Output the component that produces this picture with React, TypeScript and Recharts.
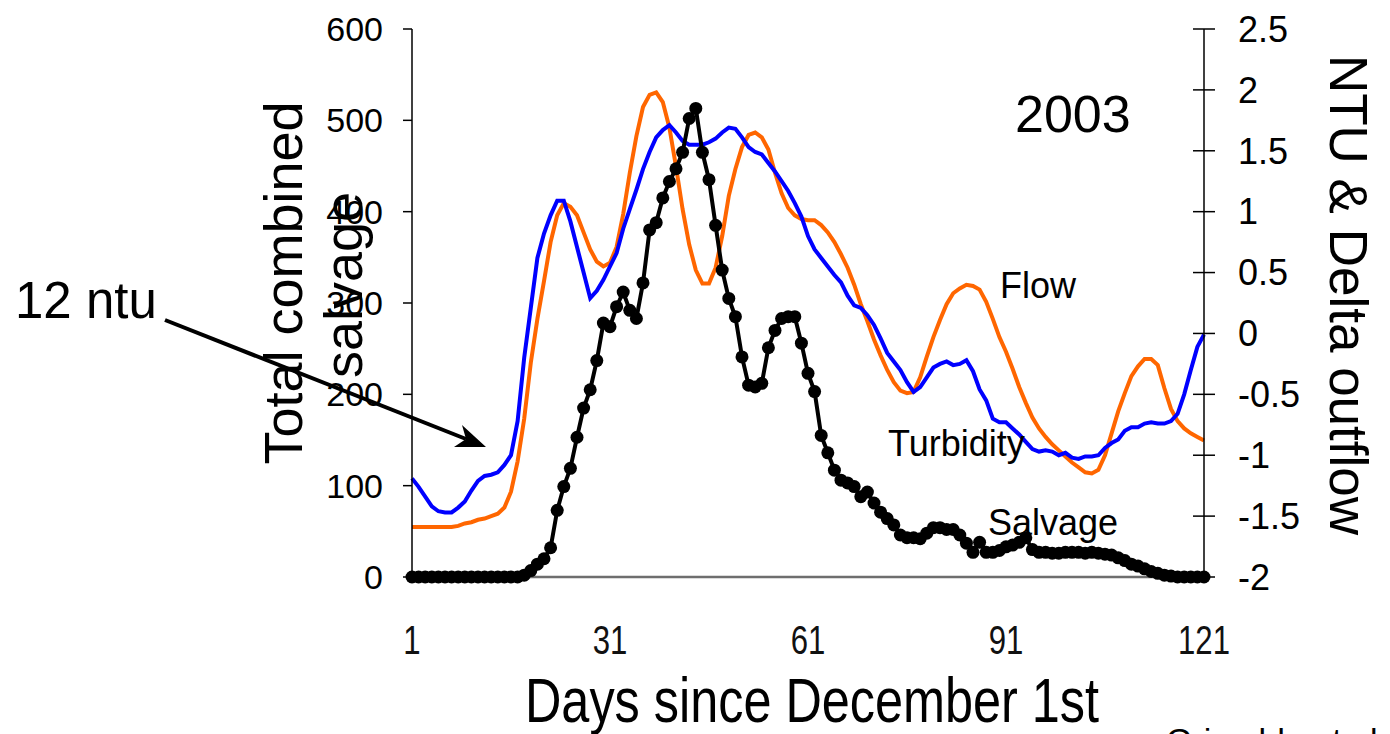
import React from "react";
import { LineChart, Line, XAxis, YAxis } from "recharts";

// Days since December 1st, 2003 season
const days: number[] = Array.from({ length: 121 }, (_, i) => i + 1);

// Total combined salvage (left axis)
const salvage: number[] = [
  0, 0, 0, 0, 0, 0, 0, 0, 0, 0,
  0, 0, 0, 0, 0, 0, 0, 2, 7, 14,
  20, 32, 73, 99, 119, 153, 185, 205, 237, 278,
  274, 296, 312, 292, 283, 322, 380, 388, 415, 433,
  447, 465, 502, 513, 465, 435, 385, 336, 305, 285,
  241, 210, 208, 212, 251, 270, 283, 285, 285, 256,
  223, 203, 155, 136, 117, 106, 103, 99, 88, 93,
  81, 71, 64, 57, 46, 43, 43, 42, 48, 54,
  54, 52, 52, 46, 37, 27, 38, 27, 27, 29,
  33, 35, 38, 43, 30, 27, 27, 26, 26, 27,
  27, 27, 26, 27, 26, 25, 24, 21, 18, 14,
  12, 9, 6, 4, 2, 1, 0, 0, 0, 0,
  0,
];

// Delta outflow, standardised (right axis)
const flow: number[] = [
  -1.59, -1.59, -1.59, -1.59, -1.59, -1.59, -1.59, -1.58, -1.56, -1.55,
  -1.53, -1.52, -1.5, -1.48, -1.43, -1.3, -1.05, -0.7, -0.24, 0.12,
  0.43, 0.75, 0.97, 1.07, 1.04, 0.97, 0.83, 0.69, 0.59, 0.55,
  0.58, 0.71, 0.98, 1.32, 1.62, 1.86, 1.96, 1.98, 1.9, 1.69,
  1.37, 1.02, 0.73, 0.52, 0.41, 0.41, 0.54, 0.8, 1.13, 1.35,
  1.53, 1.63, 1.65, 1.61, 1.51, 1.32, 1.15, 1.03, 0.97, 0.94,
  0.93, 0.93, 0.89, 0.83, 0.75, 0.65, 0.54, 0.4, 0.24, 0.1,
  -0.05, -0.18, -0.3, -0.4, -0.47, -0.49, -0.48, -0.36, -0.19, -0.03,
  0.11, 0.24, 0.33, 0.37, 0.4, 0.39, 0.36, 0.26, 0.12, -0.03,
  -0.15, -0.29, -0.44, -0.57, -0.69, -0.78, -0.85, -0.91, -0.96, -1.01,
  -1.06, -1.1, -1.14, -1.15, -1.12, -1.0, -0.82, -0.64, -0.49, -0.35,
  -0.27, -0.21, -0.21, -0.26, -0.45, -0.62, -0.72, -0.78, -0.82, -0.85,
  -0.88,
];

// Turbidity, standardised (right axis)
const turbidity: number[] = [
  -1.19, -1.26, -1.34, -1.42, -1.46, -1.47, -1.47, -1.43, -1.38, -1.29,
  -1.21, -1.17, -1.16, -1.14, -1.08, -1.0, -0.72, -0.2, 0.21, 0.62,
  0.82, 0.97, 1.09, 1.09, 0.92, 0.71, 0.5, 0.29, 0.35, 0.44,
  0.55, 0.66, 0.86, 1.02, 1.18, 1.35, 1.49, 1.61, 1.67, 1.71,
  1.65, 1.58, 1.55, 1.55, 1.55, 1.57, 1.6, 1.65, 1.69, 1.68,
  1.61, 1.53, 1.49, 1.47, 1.4, 1.33, 1.25, 1.17, 1.07, 0.96,
  0.8, 0.69, 0.62, 0.55, 0.48, 0.42, 0.31, 0.23, 0.21, 0.15,
  0.07, -0.04, -0.16, -0.23, -0.3, -0.4, -0.48, -0.44, -0.36, -0.28,
  -0.25, -0.23, -0.26, -0.25, -0.22, -0.31, -0.46, -0.55, -0.7, -0.73,
  -0.73, -0.78, -0.83, -0.89, -0.95, -0.97, -0.96, -0.97, -1.0, -0.98,
  -1.02, -1.03, -1.01, -1.01, -1.0, -0.94, -0.9, -0.87, -0.8, -0.77,
  -0.77, -0.74, -0.73, -0.74, -0.74, -0.72, -0.66, -0.5, -0.3, -0.11,
  -0.01,
];

const xTicks = [1, 31, 61, 91, 121];
const leftTicks = [0, 100, 200, 300, 400, 500, 600];
const rightTicks = [-2, -1.5, -1, -0.5, 0, 0.5, 1, 1.5, 2, 2.5];

const FONT = "'Liberation Sans', Arial, sans-serif";

const data = days.map((day, i) => ({
  day,
  salvage: salvage[i],
  flow: flow[i],
  turbidity: turbidity[i],
}));

// narrow-looking x tick labels
function XTick(props: any) {
  const { x, y, payload } = props;
  return (
    <text
      x={0}
      y={0}
      dy="0.71em"
      textAnchor="middle"
      transform={`translate(${x},${y}) scale(0.76,1)`}
      fontSize={41}
      fontFamily={FONT}
      fill="#111"
    >
      {payload.value}
    </text>
  );
}

// right axis: tick mark crosses the axis line
function RightTick(props: any) {
  const { x, y, payload } = props;
  const axisX = x - 34;
  return (
    <g>
      <line x1={axisX - 11} y1={y} x2={axisX + 11} y2={y} stroke="#000" strokeWidth={1.5} />
      <text x={x} y={y} dy="0.355em" textAnchor="start" fontSize={36} fontFamily={FONT} fill="#000">
        {payload.value}
      </text>
    </g>
  );
}

export default function App() {
  return (
    <div
      style={{
        position: "absolute",
        left: 0,
        top: 0,
        width: 1390,
        height: 734,
        overflow: "hidden",
        background: "#fff",
      }}
    >
      <LineChart
        width={1390}
        height={734}
        data={data}
        margin={{ top: 29, right: 106, bottom: 117, left: 332 }}
      >
        <XAxis
          dataKey="day"
          type="number"
          domain={[1, 121]}
          ticks={xTicks}
          interval={0}
          tickLine={false}
          tickSize={0}
          tickMargin={48}
          height={40}
          axisLine={{ stroke: "#6e6e6e", strokeWidth: 2.5 }}
          tick={(p: any) => <XTick {...p} />}
        />
        <YAxis
          yAxisId="left"
          orientation="left"
          domain={[0, 600]}
          ticks={leftTicks}
          interval={0}
          width={80}
          tickSize={9}
          tickMargin={20}
          axisLine={{ stroke: "#000", strokeWidth: 1.5 }}
          tickLine={{ stroke: "#000", strokeWidth: 1.5 }}
          tick={{ fontSize: 34, fill: "#000", fontFamily: FONT }}
        />
        <YAxis
          yAxisId="right"
          orientation="right"
          domain={[-2, 2.5]}
          ticks={rightTicks}
          interval={0}
          width={80}
          tickSize={0}
          tickMargin={34}
          tickLine={false}
          axisLine={{ stroke: "#000", strokeWidth: 1.5 }}
          tick={(p: any) => <RightTick {...p} />}
        />
        <Line
          yAxisId="right"
          dataKey="flow"
          type="linear"
          stroke="#FF6600"
          strokeWidth={4}
          dot={false}
          activeDot={false}
          isAnimationActive={false}
        />
        <Line
          yAxisId="right"
          dataKey="turbidity"
          type="linear"
          stroke="#0000FF"
          strokeWidth={4}
          dot={false}
          activeDot={false}
          isAnimationActive={false}
        />
        <Line
          yAxisId="left"
          dataKey="salvage"
          type="linear"
          stroke="#000"
          strokeWidth={4}
          dot={{ r: 6.5, fill: "#000", stroke: "#000", strokeWidth: 0 }}
          activeDot={false}
          isAnimationActive={false}
        />
      </LineChart>

      {/* titles and annotations */}
      <svg
        width={1390}
        height={734}
        style={{ position: "absolute", left: 0, top: 0, pointerEvents: "none" }}
        fontFamily={FONT}
      >
        <text transform="translate(302,283) rotate(-90)" textAnchor="middle" fontSize={54} fill="#000">
          Total combined
        </text>
        <text transform="translate(362,285) rotate(-90)" textAnchor="middle" fontSize={54} fill="#000">
          salvage
        </text>
        <text transform="translate(1330,295) rotate(90)" textAnchor="middle" fontSize={53} fill="#000">
          NTU &amp; Delta outflow
        </text>
        <text
          x={0}
          y={0}
          transform="translate(812,722) scale(0.8,1)"
          textAnchor="middle"
          fontSize={63}
          fill="#000"
        >
          Days since December 1st
        </text>
        <text x={1015} y={132} fontSize={52} fill="#000">2003</text>
        <text x={1000} y={298} fontSize={36} fill="#000">Flow</text>
        <text x={888} y={456} fontSize={36} fill="#000">Turbidity</text>
        <text x={988} y={535} fontSize={36} fill="#000">Salvage</text>
        <text x={15} y={318} fontSize={51} fill="#000">12 ntu</text>
        <line x1={165} y1={320} x2={466} y2={439} stroke="#000" strokeWidth={4} />
        <polygon points="486,447 462,425 466,439 454,447" fill="#000" />
        {/* source credit, cut off by the bottom edge as in the original slide */}
        <text x={1166} y={752} fontSize={34} fill="#000">Grimaldo et al.</text>
      </svg>
    </div>
  );
}
